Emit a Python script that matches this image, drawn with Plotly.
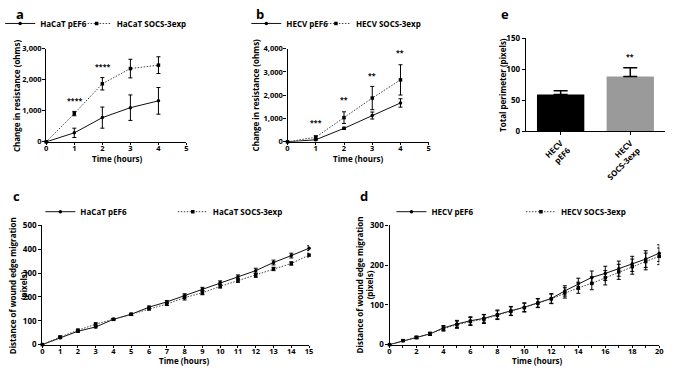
import plotly.graph_objects as go

# ---------- data ----------
# panel a (HaCaT, resistance)
a_time = [0, 1, 2, 3, 4]
a_pef6 = [0, 290, 780, 1100, 1320]
a_pef6_err = [0, 150, 340, 410, 430]
a_socs = [0, 910, 1870, 2360, 2470]
a_socs_err = [0, 70, 200, 300, 270]
a_sig_text = ["****", "****", "***", "***"]
a_sig_x = [1, 2, 3, 4]
a_sig_y = [1320, 2430, 3020, 3070]

# panel b (HECV, resistance)
b_time = [0, 1, 2, 3, 4]
b_pef6 = [0, 90, 580, 1130, 1670]
b_pef6_err = [0, 30, 50, 150, 180]
b_socs = [0, 200, 1040, 1880, 2660]
b_socs_err = [0, 60, 250, 500, 650]
b_sig_text = ["***", "**", "**", "**"]
b_sig_x = [1, 2, 3, 4]
b_sig_y = [830, 1800, 2870, 3820]

# panel c (HaCaT, wound migration)
c_time = list(range(0, 16))
c_pef6 = [0, 29, 56, 74, 106, 127, 157, 179, 206, 233, 260, 284, 310, 344, 373, 404]
c_pef6_err = [0, 4, 5, 4, 3, 4, 5, 6, 7, 7, 7, 8, 10, 10, 10, 10]
c_socs = [0, 32, 60, 86, 106, 127, 150, 170, 197, 217, 244, 268, 290, 317, 340, 375]
c_socs_err = [0, 4, 5, 5, 3, 4, 5, 6, 10, 8, 7, 7, 8, 7, 7, 8]

# panel d (HECV, wound migration)
d_time = list(range(0, 21))
d_pef6 = [0, 10, 18, 27, 42, 52, 60, 66, 76, 85, 94, 105, 116, 135, 153, 169, 179, 191, 203, 215, 230]
d_pef6_err = [0, 2, 3, 4, 6, 9, 10, 10, 11, 11, 11, 11, 12, 13, 14, 16, 18, 19, 19, 21, 21]
d_socs = [0, 10, 18, 27, 40, 50, 58, 64, 74, 84, 93, 104, 115, 130, 143, 154, 168, 183, 196, 209, 222]
d_socs_err = [0, 2, 3, 4, 6, 9, 10, 11, 11, 11, 11, 11, 12, 13, 14, 16, 18, 19, 19, 21, 21]

# panel e (HECV, total perimeter)
e_cats = ["HECV<br>pEF6", "HECV<br>SOCS-3exp"]
e_vals = [59, 88]
e_err = [6, 14]
e_colors = ["#000000", "#9a9a9a"]
e_sig_text = ["**"]
e_sig_x = [1]
e_sig_y = [120]

FONT = "Open Sans"
W, H = 675, 370


def px_x(p):
    return p / W


def px_y(p):
    return 1 - p / H


fig = go.Figure()

solid = dict(color="#111111", width=1)
dotted = dict(color="#444444", width=1, dash="1.5px,1.5px")


def add_pair(t, p, pe, s, se, xa, ya, leg1, leg2, n1, n2):
    fig.add_trace(go.Scatter(
        x=t, y=p, name=n1, mode="lines+markers", line=solid,
        marker=dict(symbol="circle", size=3.5, color="#000"),
        error_y=dict(type="data", array=pe, color="#000", thickness=1, width=2),
        xaxis=xa, yaxis=ya, legend=leg1, cliponaxis=False))
    fig.add_trace(go.Scatter(
        x=t, y=s, name=n2, mode="lines+markers", line=dotted,
        marker=dict(symbol="square", size=3.5, color="#000"),
        error_y=dict(type="data", array=se, color="#000", thickness=1, width=2),
        xaxis=xa, yaxis=ya, legend=leg2, cliponaxis=False))


add_pair(a_time, a_pef6, a_pef6_err, a_socs, a_socs_err, "x", "y", "legend", "legend2",
         "HaCaT pEF6", "HaCaT SOCS-3exp")
add_pair(b_time, b_pef6, b_pef6_err, b_socs, b_socs_err, "x2", "y2", "legend3", "legend4",
         "HECV pEF6", "HECV SOCS-3exp")
add_pair(c_time, c_pef6, c_pef6_err, c_socs, c_socs_err, "x4", "y4", "legend5", "legend6",
         "HaCaT pEF6", "HaCaT SOCS-3exp")
add_pair(d_time, d_pef6, d_pef6_err, d_socs, d_socs_err, "x5", "y5", "legend7", "legend8",
         "HECV pEF6", "HECV SOCS-3exp")

fig.add_trace(go.Bar(
    x=e_cats, y=e_vals, marker=dict(color=e_colors, line=dict(width=0)),
    width=0.68, showlegend=False,
    error_y=dict(type="data", symmetric=False, array=e_err, arrayminus=[0, 0],
                 color="#000", thickness=1.5, width=7),
    xaxis="x3", yaxis="y3"))

tickfont = dict(family=FONT, size=8, color="#000", weight="bold")
small_tickfont = dict(family=FONT, size=7.5, color="#000", weight="bold")
titlefont = dict(family=FONT, size=8, color="#000", weight="bold")

axis_common = dict(showline=True, linecolor="#000", linewidth=1.3, ticks="outside",
                   ticklen=3, tickwidth=1, tickcolor="#000", showgrid=False,
                   zeroline=False, tickfont=tickfont)


def xax(domain, rng, dtick, anchor, **kw):
    d = dict(axis_common)
    d.update(domain=domain, range=rng, dtick=dtick, anchor=anchor)
    d.update(kw)
    return d


def yax(domain, rng, dtick, anchor, fmt="", **kw):
    d = dict(axis_common)
    d.update(domain=domain, range=rng, dtick=dtick, anchor=anchor, tickformat=fmt)
    d.update(kw)
    return d


ya_dom = [px_y(140), px_y(44)]
yc_dom = [px_y(349), px_y(226)]

fig.update_layout(
    width=W, height=H, margin=dict(l=0, r=0, t=0, b=0),
    paper_bgcolor="white", plot_bgcolor="white",
    font=dict(family=FONT, color="#000"),
    xaxis=xax([px_x(39), px_x(182)], [0, 5], 1, "y", ticklen=2, ticklabelstandoff=-3,
              tickfont=small_tickfont),
    yaxis=yax(ya_dom, [0, 3000], 1000, "x", ",d", ticklabelstandoff=-1,
              tickfont=small_tickfont),
    xaxis2=xax([px_x(285), px_x(429)], [0, 5], 1, "y2", ticklen=2, ticklabelstandoff=-3,
               tickfont=small_tickfont),
    yaxis2=yax(ya_dom, [0, 4000], 1000, "x2", ",d", ticklabelstandoff=-1,
               tickfont=small_tickfont),
    xaxis3=dict(axis_common, domain=[px_x(528), px_x(670)], range=[-0.5, 1.5],
                anchor="y3", tickangle=-45, type="category"),
    yaxis3=yax([px_y(129), px_y(33)], [0, 150], 50, "x3"),
    xaxis4=xax([px_x(35), px_x(307)], [0, 15], 1, "y4", ticklen=2,
               ticklabelstandoff=-3, tickfont=small_tickfont),
    yaxis4=yax(yc_dom, [0, 500], 100, "x4"),
    xaxis5=xax([px_x(389), px_x(664)], [0, 20], 2, "y5", ticklen=2,
               ticklabelstandoff=-3, tickfont=small_tickfont,
               minor=dict(dtick=1, ticks="outside", ticklen=2, tickcolor="#000")),
    yaxis5=yax(yc_dom, [0, 300], 100, "x5"),
    showlegend=True,
)

legfont = dict(family=FONT, size=8, color="#000", weight="bold")


def leg(text_x, y):
    return dict(x=px_x(text_x - 50), y=px_y(y), xanchor="left", yanchor="middle",
                orientation="h", font=legfont, bgcolor="rgba(0,0,0,0)",
                itemwidth=30, tracegroupgap=0)


fig.update_layout(
    legend=leg(42, 18), legend2=leg(120, 18),
    legend3=leg(293, 18), legend4=leg(364, 18),
    legend5=leg(83, 212), legend6=leg(218, 212),
    legend7=leg(441, 212), legend8=leg(573, 212),
)

annots = []
for lbl, x, y in [("a", 12, 8), ("b", 257, 8), ("e", 507, 8), ("c", 9, 196), ("d", 363, 196)]:
    annots.append(dict(text=lbl, x=px_x(x), y=px_y(y), xref="paper", yref="paper",
                       showarrow=False, xanchor="center", yanchor="middle",
                       font=dict(family=FONT, size=13, color="#000", weight="bold")))

# axis titles
for txt, x, y in [("Time (hours)", 112, 157.5), ("Time (hours)", 357, 157.5),
                  ("Time (hours)", 180, 365), ("Time (hours)", 540, 365)]:
    annots.append(dict(text=txt, x=px_x(x), y=px_y(y), xref="paper", yref="paper",
                       showarrow=False, xanchor="center", yanchor="middle",
                       font=titlefont))
for txt, x, y in [("Change in resistance (ohms)", 8, 92),
                  ("Change in resistance (ohms)", 252, 92),
                  ("Total perimeter (pixels)", 504, 81),
                  ("Distance of wound edge migration<br>(pixels)", 10, 288),
                  ("Distance of wound edge migration<br>(pixels)", 363, 288)]:
    annots.append(dict(text=txt, x=px_x(x), y=px_y(y), xref="paper", yref="paper",
                       showarrow=False, xanchor="center", yanchor="middle",
                       textangle=-90, font=titlefont))

sigfont = dict(family=FONT, size=7, color="#000", weight="bold")
for t, x, y in zip(a_sig_text, a_sig_x, a_sig_y):
    annots.append(dict(text=t, x=x, y=y, xref="x", yref="y", showarrow=False,
                       font=sigfont, yanchor="middle"))
for t, x, y in zip(b_sig_text, b_sig_x, b_sig_y):
    annots.append(dict(text=t, x=x, y=y, xref="x2", yref="y2", showarrow=False,
                       font=sigfont, yanchor="middle"))
for t, x, y in zip(e_sig_text, e_sig_x, e_sig_y):
    annots.append(dict(text=t, x=x, y=y, xref="x3", yref="y3", showarrow=False,
                       font=sigfont, yanchor="middle"))

fig.update_layout(annotations=annots)

fig.write_html("out.html", config={"displayModeBar": False},
               post_script="document.body.style.margin='0';document.body.style.overflow='hidden';")
